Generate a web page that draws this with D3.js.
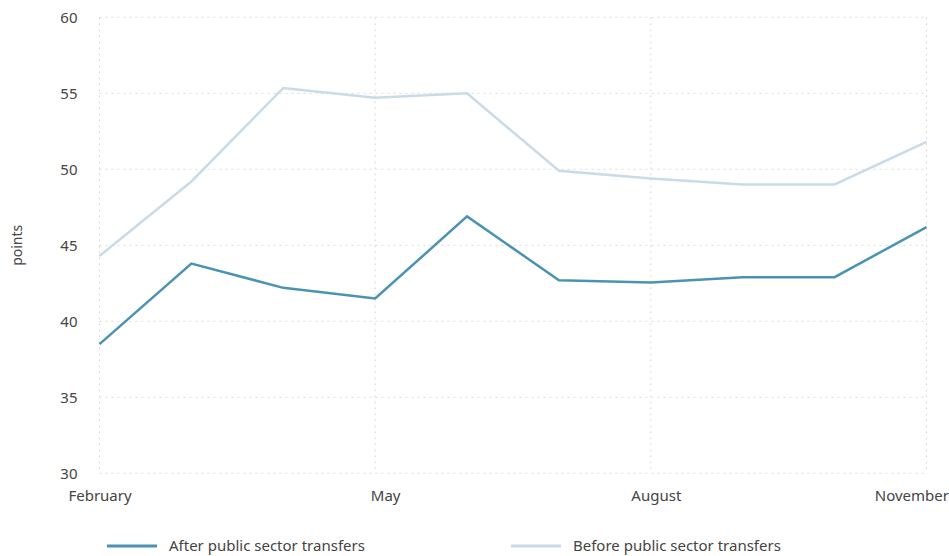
<!DOCTYPE html>
<html>
<head>
<meta charset="utf-8">
<script src="https://cdn.jsdelivr.net/npm/d3@7/dist/d3.min.js"></script>
<style>
  html, body { margin: 0; padding: 0; background: #fff; }
  svg { display: block; font-family: "Noto Sans", "Open Sans", sans-serif; }
</style>
</head>
<body>
<svg id="chart" width="949" height="556"></svg>
<script>
// Monthly categories, February through November
const months = ["February", "March", "April", "May", "June", "July", "August", "September", "October", "November"];
// Series values (points)
const afterTransfers = [38.5, 43.8, 42.2, 41.5, 46.9, 42.7, 42.55, 42.9, 42.9, 46.2];
const beforeTransfers = [44.3, 49.2, 55.35, 54.7, 55.0, 49.9, 49.4, 49.0, 49.0, 51.8];
const yTicks = [30, 35, 40, 45, 50, 55, 60];
const xTickLabels = ["February", "May", "August", "November"];

const series = [
  { name: "After public sector transfers", values: afterTransfers, color: "#4b93b3" },
  { name: "Before public sector transfers", values: beforeTransfers, color: "#c9dbe6" }
];

const svg = d3.select("#chart");
const margin = { left: 99.5, right: 22.5, top: 17.3, bottom: 82.7 };
const W = 949, H = 556;

const x = d3.scalePoint().domain(months).range([margin.left, W - margin.right]);
const y = d3.scaleLinear().domain([30, 60]).range([H - margin.bottom, margin.top]);

const grid = svg.append("g");
// horizontal grid
grid.selectAll("line.h").data(yTicks).join("line")
  .attr("x1", margin.left).attr("x2", W - margin.right)
  .attr("y1", d => y(d)).attr("y2", d => y(d))
  .attr("stroke", "#d9d9d9").attr("stroke-width", 1).attr("stroke-dasharray", "2,4");
// vertical grid
grid.selectAll("line.v").data(xTickLabels).join("line")
  .attr("x1", d => x(d)).attr("x2", d => x(d))
  .attr("y1", y(60)).attr("y2", y(30))
  .attr("stroke", "#d9d9d9").attr("stroke-width", 1).attr("stroke-dasharray", "2,4");

// y axis labels
const yAxis = svg.append("g").attr("transform", `translate(${margin.left},0)`)
  .call(d3.axisLeft(y).tickValues(yTicks).tickSize(0).tickPadding(22));
yAxis.select(".domain").remove();
yAxis.selectAll("text").attr("font-size", 15).attr("fill", "#444")
  .attr("font-family", "'Noto Sans', sans-serif");

// x axis labels
const xAxis = svg.append("g").attr("transform", `translate(0,${y(30)})`)
  .call(d3.axisBottom(x).tickValues(xTickLabels).tickSize(0).tickPadding(17));
xAxis.select(".domain").remove();
xAxis.selectAll("text").attr("font-size", 15).attr("fill", "#444")
  .attr("font-family", "'Noto Sans', sans-serif");
xAxis.selectAll(".tick").filter(d => d === "May").select("text").attr("dx", 10);
xAxis.selectAll(".tick").filter(d => d === "August").select("text").attr("dx", 5);
xAxis.selectAll(".tick").filter(d => d === "November").select("text")
  .attr("text-anchor", "end").attr("dx", 22);

// y axis title
svg.append("text")
  .attr("transform", `translate(22,${(y(30) + y(60)) / 2}) rotate(-90)`)
  .attr("text-anchor", "middle")
  .attr("font-size", 14).attr("fill", "#444")
  .text("points");

// lines (light series drawn first)
const line = d3.line().x((d, i) => x(months[i])).y(d => y(d));
[series[1], series[0]].forEach(s => {
  svg.append("path")
    .datum(s.values)
    .attr("fill", "none")
    .attr("stroke", s.color)
    .attr("stroke-width", 2.5)
    .attr("stroke-linejoin", "miter")
    .attr("d", line);
});

// legend
const legendX = [107, 511];
const legend = svg.append("g");
series.forEach((s, i) => {
  const g = legend.append("g").attr("transform", `translate(${legendX[i]},546)`);
  g.append("line").attr("x1", 0).attr("x2", 50).attr("y1", 0).attr("y2", 0)
    .attr("stroke", s.color).attr("stroke-width", 3);
  g.append("text").attr("x", 62).attr("y", 0).attr("dy", "0.35em")
    .attr("font-size", 15).attr("fill", "#444").text(s.name);
});
</script>
</body>
</html>
